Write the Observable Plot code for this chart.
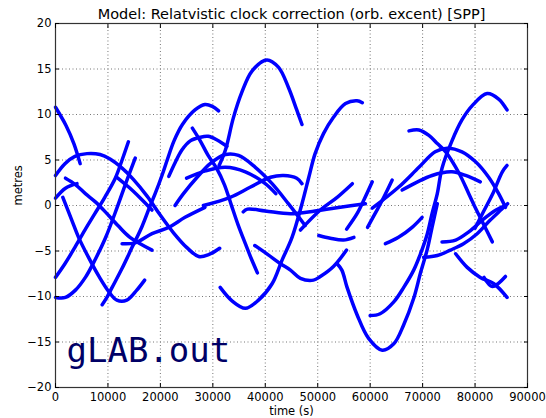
<!DOCTYPE html>
<html><head><meta charset="utf-8">
<script src="https://cdn.jsdelivr.net/npm/d3@7"></script>
<script src="https://cdn.jsdelivr.net/npm/@observablehq/plot@0.6"></script>
<style>body{margin:0;background:#fff} svg{display:block}</style>
</head><body><div id="chart"></div>
<script>
const titleText = "Model: Relatvistic clock correction (orb. excent) [SPP]";
const xLabel = "time (s)";
const yLabel = "metres";
const watermark = "gLAB.out";
const xTicks = [0,10000,20000,30000,40000,50000,60000,70000,80000,90000];
const yTicks = [-20,-15,-10,-5,0,5,10,15,20];

// satellite passes: [time (s), correction (m)]
const a1 = [[0,10.8],[2000,8.8],[3500,6.8],[4700,4.6]];
const a2 = [[0,3.3],[1800,4.6],[3700,5.4],[6000,5.7],[8500,5.6],[10400,5.1],[12700,4.1],[14800,2.9],[17500,1.0],[19900,-1.0],[22500,-3.0],[25000,-4.6],[27300,-5.6],[29200,-5.4],[31300,-4.7]];
const a5 = [[0,-7.9],[1800,-6.4],[3700,-4.6],[5600,-2.7],[7500,-0.9],[9400,0.9],[11400,3.0],[12700,5.0],[13900,7.0]];
const aS = [[8900,-10.9],[9800,-10.1],[10800,-9.0],[12700,-6.9],[14600,-4.6],[16500,-2.3],[18000,-0.1],[19000,1.3],[20300,3.3],[21300,5.0],[22600,7.1],[24200,8.9],[26600,10.5],[28500,11.1],[29900,10.9],[31100,10.4]];
const aT = [[21600,3.2],[22800,4.7],[24100,6.1],[25700,7.1],[27600,7.5],[29100,7.6],[30800,7.2],[32700,6.5]];
const aP = [[31200,4.4],[32400,6.1],[33900,9.6],[35500,12.4],[37500,14.8],[40300,16.0],[42500,15.2],[44400,13.0],[46000,10.5],[47000,8.9]];
const aQ = [[31400,-9.0],[33700,-10.5],[36200,-11.3],[38700,-10.4],[41300,-8.6],[43200,-6.0],[45100,-3.5],[47000,0.2],[48300,3.1],[49500,5.7],[51100,7.9],[53000,9.7],[55300,11.2],[57500,11.5],[58500,11.3]];
const aU = [[53700,-6.4],[54600,-7.1],[55600,-9.0],[57500,-12.0],[59700,-14.6],[62300,-15.9],[64500,-15.2],[66400,-13.1],[68300,-10.2],[69600,-7.4],[70900,-4.8],[71800,-2.4],[72800,0.2]];
const aK = [[60000,-12.1],[61900,-11.9],[64500,-10.6],[66400,-9.0],[68300,-7.1],[69600,-5.3],[70900,-3.1],[71800,-0.9],[72800,1.3],[73700,4.1],[75600,7.1],[77500,9.4],[79500,11.0],[82300,12.3],[84500,11.7],[86100,10.5]];
const aV = [[67400,8.2],[69300,8.3],[71200,7.7],[72800,6.8],[74400,5.9],[76900,3.6],[78800,1.3],[80100,-0.3],[81400,-1.8],[83300,-4.0]];
const aW = [[60400,-0.3],[65400,2.0],[69300,4.2],[72400,5.9],[74700,6.3],[77500,5.9],[80100,4.8],[82600,3.1],[84500,1.3],[85800,-0.2]];
const aX = [[66100,1.7],[71800,3.3],[75600,3.7],[78200,3.3],[81000,2.6]];
const r1 = [[73700,-4.0],[76300,-3.8],[78800,-2.9],[81400,-1.6],[84000,-0.5],[85900,0.0]];
const r2 = [[70200,-5.7],[72800,-5.5],[75300,-4.9],[77800,-4.2],[80400,-3.1],[82900,-1.6],[84900,-0.5],[86200,0.2]];
const r3 = [[76300,-5.3],[78500,-6.8],[81000,-7.9],[83600,-8.6],[86100,-10.1]];
const r4 = [[81700,-7.9],[83300,-8.9],[85800,-7.8]];
const r5 = [[62900,-4.2],[65400,-3.5],[68000,-2.4],[69900,-1.3]];
const r6 = [[80000,-2.5],[81400,-0.9],[83300,1.2],[85200,3.7],[86100,4.4]];
const aAA = [[28200,0.0],[33300,0.9],[37100,2.0],[41000,3.1],[43500,3.3],[46000,3.0],[47000,2.4]];
const aBB = [[35800,-0.7],[36600,-0.4],[40000,-0.6],[44800,-0.9],[49500,-0.6],[54300,-0.2],[59100,0.2]];
const aY = [[1400,0.9],[3100,-1.6],[4400,-3.5],[6300,-5.7],[8400,-7.9],[10200,-9.5],[11700,-10.4],[13600,-10.4],[15500,-9.3],[17000,-8.2]];
const aC1 = [[0,-10.1],[1900,-10.1],[3800,-9.3],[5700,-7.9],[7600,-5.9],[9500,-3.6],[11700,-0.3],[13500,2.6],[15200,5.2]];
const aR = [[26100,8.5],[27600,7.1],[29100,5.5],[30700,4.1],[32200,2.3],[33500,0.1],[34800,-2.1],[36200,-4.2],[37300,-5.8],[38500,-7.4]];
const aD1 = [[1900,3.0],[3800,2.3],[5700,1.3],[7600,0.4],[9500,-0.7],[11900,-2.2],[14200,-3.5],[18400,-4.9]];
const aD2 = [[11700,3.1],[14000,2.0],[16200,0.8],[18400,-0.5]];
const aC = [[0,0.8],[1900,1.9],[4100,2.4]];
const aE1 = [[22800,0.0],[24400,1.3],[27000,3.1],[29500,4.6],[32400,5.6],[34900,5.5],[38100,4.2],[41300,2.4],[44400,0.2],[47600,-2.2]];
const aE2 = [[25000,3.0],[28600,3.8],[32400,4.2],[36200,3.7],[40000,2.4],[42000,1.3]];
const sp1 = [[46700,-2.7],[50500,-0.5],[53700,0.9],[56600,2.4]];
const sp2 = [[55500,-2.6],[57500,-0.9],[58800,0.6],[60400,2.6]];
const sp3 = [[59500,-2.4],[61300,-0.5],[62600,0.9],[64200,2.8]];
const aF = [[50200,-3.3],[52400,-3.6],[54900,-3.8],[56900,-3.5]];
const aG = [[38000,-4.4],[40500,-5.4],[42900,-6.4],[44800,-7.1],[46700,-8.0],[49200,-8.2],[50500,-7.8],[53000,-6.7],[55500,-4.9]];
const aH = [[12700,-4.2],[15200,-4.1],[18400,-3.1],[21600,-2.4],[24700,-1.3],[28500,-0.2]];

const passes = [a1,a2,a5,aS,aT,aP,aQ,aU,aK,aV,aW,aX,r1,r2,r3,r4,r5,r6,aAA,aBB,aY,aC1,aR,aD1,aD2,aC,aE1,aE2,sp1,sp2,sp3,aF,aG,aH];
const rows = passes.flatMap((p, i) => p.map(([t, v]) => ({pass: i, t, v})));
const minus = d => d < 0 ? "\u2212" + (-d) : String(d);

const chart = Plot.plot({
  width: 546, height: 418,
  marginLeft: 55, marginRight: 19, marginTop: 23, marginBottom: 31,
  style: {fontFamily: "DejaVu Sans", fontSize: "11.5px", color: "#000", background: "#fff"},
  x: {domain: [0, 90000], ticks: xTicks, label: null},
  y: {domain: [-20, 20], ticks: yTicks, label: null},
  marks: [
    Plot.gridX(xTicks, {stroke: "#777", strokeOpacity: 1, strokeDasharray: "1,2.5"}),
    Plot.gridY(yTicks, {stroke: "#777", strokeOpacity: 1, strokeDasharray: "1,2.5"}),
    Plot.line(rows, {x: "t", y: "v", z: "pass", stroke: "#0000ff", strokeWidth: 3.5, curve: "catmull-rom"}),
    Plot.text([watermark], {frameAnchor: "bottom-left", dx: 11, dy: -26, textAnchor: "start", lineAnchor: "bottom", fontFamily: "DejaVu Sans Mono", fontSize: 34, fill: "#000066"}),
    Plot.frame({stroke: "#333", strokeWidth: 1.2}),
    Plot.axisX(xTicks, {anchor: "bottom", tickSize: 0, tickPadding: 5, tickFormat: d => String(d), label: null, fontSize: 11.5}),
    Plot.axisY(yTicks, {anchor: "left", tickSize: 0, tickPadding: 4, tickFormat: minus, label: null, fontSize: 11.5}),
    Plot.axisX(xTicks, {anchor: "bottom", tickSize: 4, dy: -4, tickFormat: () => "", label: null}),
    Plot.axisX(xTicks, {anchor: "top", tickSize: 4, dy: 4, tickFormat: () => "", label: null}),
    Plot.axisY(yTicks, {anchor: "left", tickSize: 4, dx: 4, tickFormat: () => "", label: null}),
    Plot.axisY(yTicks, {anchor: "right", tickSize: 4, dx: -4, tickFormat: () => "", label: null}),
    Plot.text([titleText], {frameAnchor: "top", dy: -5, lineAnchor: "bottom", fontSize: 14.5}),
    Plot.text([xLabel], {frameAnchor: "bottom", dy: 19, lineAnchor: "top", fontSize: 11.5}),
    Plot.text([yLabel], {frameAnchor: "left", dx: -37, rotate: -90, fontSize: 11.5})
  ]
});
document.getElementById("chart").append(chart);
</script>
</body></html>
